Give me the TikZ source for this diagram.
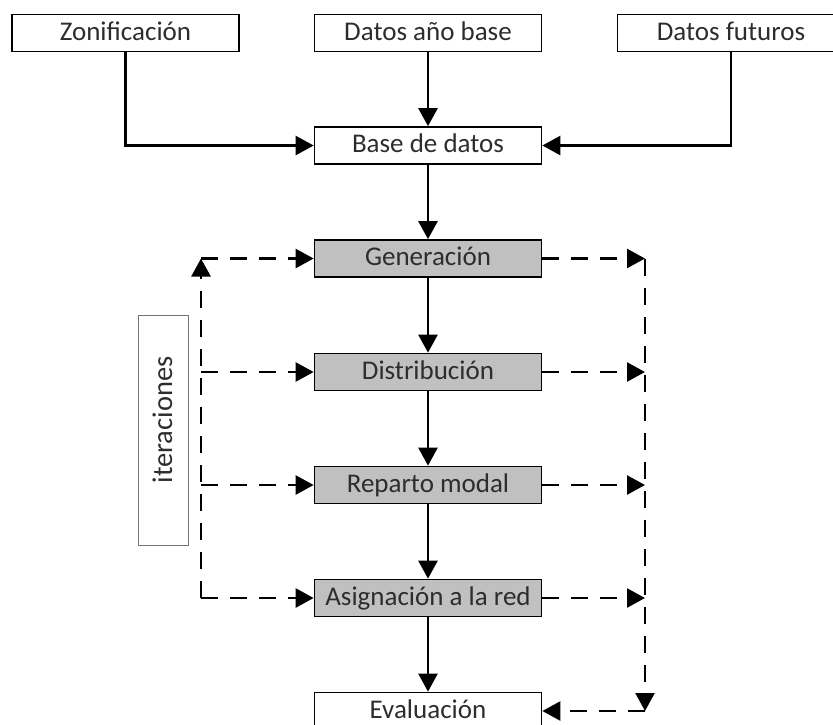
\documentclass[tikz,border=0pt]{standalone}
\usepackage{fontspec}
\setmainfont{Carlito}
\usetikzlibrary{arrows.meta}
\definecolor{stagefill}{RGB}{192,192,192}
\definecolor{labeltext}{RGB}{45,45,45}
\begin{document}
\begin{tikzpicture}[x=1pt,y=-1pt,
  box/.style={draw=black,line width=1.7pt,minimum width=227pt,minimum height=37pt,
    inner sep=0pt,text=labeltext,font=\fontsize{27}{31}\selectfont,
    text height=18pt,text depth=4pt},
  stage/.style={box,fill=stagefill},
  flow/.style={line width=2.5pt,-{Triangle[length=18pt,width=19pt]}},
  loop/.style={flow,dash pattern=on 17pt off 12pt}]
\useasboundingbox (0,0) rectangle (833,724);

% input data
\node[box] (zon) at (125.5,33) {Zonificación};
\node[box] (ano) at (428,33) {Datos año base};
\node[box] (fut) at (731,33) {Datos futuros};
\node[box] (base) at (428,145.5) {Base de datos};

% model stages
\node[stage] (gen) at (428,258.5) {Generación};
\node[stage] (dis) at (428,372) {Distribución};
\node[stage] (rep) at (428,485) {Reparto modal};
\node[stage] (asi) at (428,598) {Asignación a la red};
\node[box] (eva) at (428,711) {Evaluación};

% iteration label
\node[draw=black!55,line width=1pt,minimum width=230pt,minimum height=50pt,inner sep=0pt,
  rotate=90,text=labeltext,font=\fontsize{28.5}{32}\selectfont,
  text height=20pt,text depth=2pt] (iter) at (163,430) {\kern20pt iteraciones};

% feedback rails
\coordinate (l1) at (201,258.5);
\coordinate (l2) at (201,372);
\coordinate (l3) at (201,485);
\coordinate (l4) at (201,598);
\coordinate (r1) at (645,258.5);
\coordinate (r2) at (645,372);
\coordinate (r3) at (645,485);
\coordinate (r4) at (645,598);
\coordinate (r5) at (645,711);

% data flow
\draw[flow] (zon.south) |- (base.west);
\draw[flow] (ano.south) -- (base.north);
\draw[flow] (fut.south) |- (base.east);
\draw[flow] (base) -- (gen);
\draw[flow] (gen) -- (dis);
\draw[flow] (dis) -- (rep);
\draw[flow] (rep) -- (asi);
\draw[flow] (asi) -- (eva);

% left loop
\draw[loop] (l4) -- (l1);
\draw[loop] (l1) -- (gen.west);
\draw[loop] (l2) -- (dis.west);
\draw[loop] (l3) -- (rep.west);
\draw[loop] (l4) -- (asi.west);

% right loop
\draw[loop] (gen.east) -- (r1);
\draw[loop] (dis.east) -- (r2);
\draw[loop] (rep.east) -- (r3);
\draw[loop] (asi.east) -- (r4);
\draw[loop] (r1) -- (r5);
\draw[loop] (r5) -- (eva.east);
\end{tikzpicture}
\end{document}
